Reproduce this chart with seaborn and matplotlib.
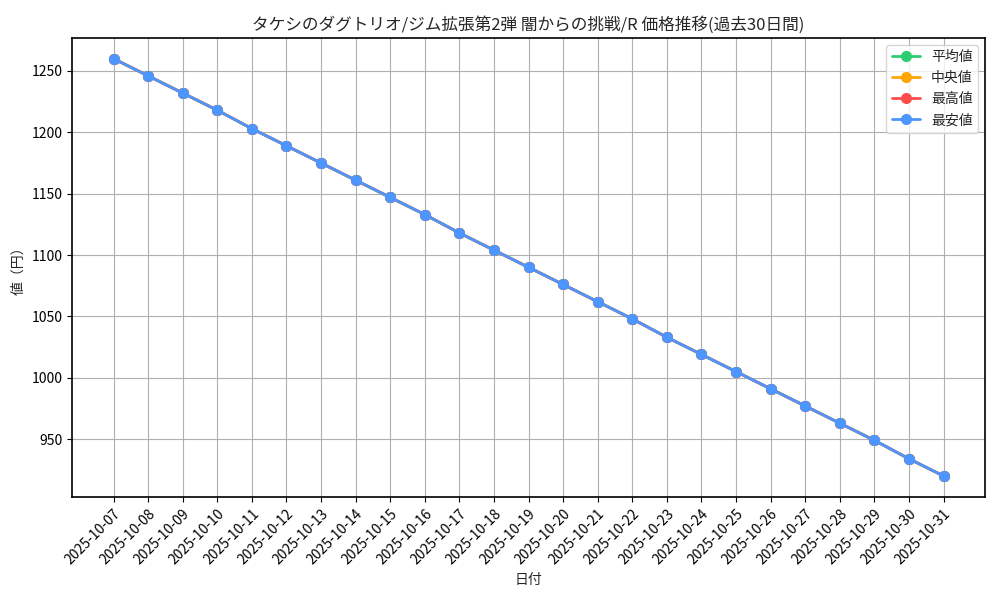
import matplotlib
matplotlib.use("Agg")
import matplotlib.pyplot as plt
import seaborn as sns
import pandas as pd

dates = ["2025-10-07", "2025-10-08", "2025-10-09", "2025-10-10", "2025-10-11",
         "2025-10-12", "2025-10-13", "2025-10-14", "2025-10-15", "2025-10-16",
         "2025-10-17", "2025-10-18", "2025-10-19", "2025-10-20", "2025-10-21",
         "2025-10-22", "2025-10-23", "2025-10-24", "2025-10-25", "2025-10-26",
         "2025-10-27", "2025-10-28", "2025-10-29", "2025-10-30", "2025-10-31"]
prices = [1260, 1246, 1232, 1218, 1203, 1189, 1175, 1161, 1147, 1133,
          1118, 1104, 1090, 1076, 1062, 1048, 1033, 1019, 1005, 991,
          977, 963, 949, 934, 920]
avg_vals = list(prices)
median_vals = list(prices)
max_vals = list(prices)
min_vals = list(prices)

series_names = ["平均値", "中央値", "最高値", "最安値"]
series_vals = [avg_vals, median_vals, max_vals, min_vals]
colors = ["#2ecc71", "#ffa500", "#ff4d4d", "#4d96ff"]

sns.set_style("ticks")
plt.rcParams["font.family"] = ["Noto Sans CJK JP", "DejaVu Sans"]

fig, ax = plt.subplots(figsize=(10, 6), dpi=100)
for name, vals, c in zip(series_names, series_vals, colors):
    df = pd.DataFrame({"date": dates, "value": vals})
    sns.lineplot(data=df, x="date", y="value", ax=ax, color=c, marker="o",
                 markersize=7, markeredgewidth=1, markeredgecolor=c,
                 linewidth=2, label=name)

ax.set_title("タケシのダグトリオ/ジム拡張第2弾 闇からの挑戦/R 価格推移(過去30日間)", fontsize=12)
ax.set_xlabel("日付", fontsize=10)
ax.set_ylabel("値（円）", fontsize=10)
ax.grid(True, color="#b0b0b0", linewidth=0.8)
ax.set_axisbelow(True)
plt.setp(ax.get_xticklabels(), rotation=45, ha="right", rotation_mode="anchor")
for s in ax.spines.values():
    s.set_linewidth(1.2)
    s.set_color("black")
ax.tick_params(colors="black", labelsize=10)
ax.legend(loc="upper right", fontsize=10)
ax.margins(x=0.05, y=0.05)
fig.subplots_adjust(left=0.072, right=0.985, top=0.937, bottom=0.172)
fig.savefig("out.png", dpi=100)
